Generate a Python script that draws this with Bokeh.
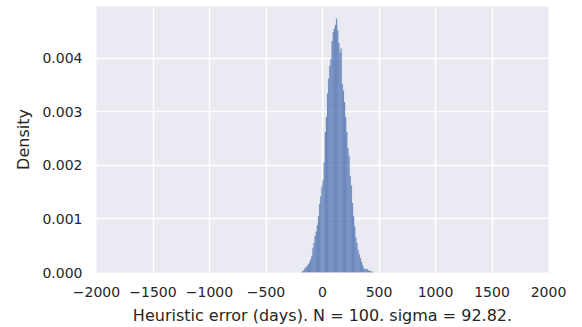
from bokeh.plotting import figure
from bokeh.models import Range1d, FixedTicker, ColumnDataSource
from bokeh.embed import file_html
from bokeh.resources import INLINE

bin_width = 10
bin_left = list(range(-190, 450, 10))
density = [
    0.00001, 0.00002, 0.00004, 0.00008, 0.00010, 0.00012, 0.00015, 0.00018,
    0.00024, 0.00030, 0.00045, 0.00055, 0.00068, 0.00076, 0.00088, 0.00105,
    0.00128, 0.00142, 0.00160, 0.00172, 0.00205, 0.00262, 0.00290, 0.00334,
    0.00362, 0.00385, 0.00398, 0.00432, 0.00448, 0.00455, 0.00462, 0.00474,
    0.00452, 0.00428, 0.00410, 0.00418, 0.00352, 0.00340, 0.00318, 0.00290,
    0.00262, 0.00232, 0.00218, 0.00180, 0.00162, 0.00130, 0.00105, 0.00086,
    0.00065, 0.00055, 0.00042, 0.00034, 0.00027, 0.00020, 0.00014, 0.00008,
    0.00005, 0.00007, 0.00006, 0.00004, 0.00003, 0.00002, 0.00002, 0.00001,
]
x_ticks = [-2000, -1500, -1000, -500, 0, 500, 1000, 1500, 2000]
y_ticks = [0.000, 0.001, 0.002, 0.003, 0.004]
x_label = "Heuristic error (days). N = 100. sigma = 92.82."
y_label = "Density"

n = min(len(bin_left), len(density))
src = ColumnDataSource(dict(
    left=bin_left[:n],
    right=[b + bin_width for b in bin_left[:n]],
    top=density[:n],
    bottom=[0] * n,
))

p = figure(width=582, height=327, output_backend="svg", toolbar_location=None,
           x_range=Range1d(-2000, 2000), y_range=Range1d(0, 0.004967),
           min_border_left=96, min_border_right=34, min_border_top=6, min_border_bottom=54)
p.background_fill_color = "#eaeaf2"
p.border_fill_color = "white"
p.outline_line_color = None

p.quad(left="left", right="right", top="top", bottom="bottom", source=src,
       fill_color="#4c72b0", fill_alpha=0.75, line_color="#4c72b0", line_alpha=0.25, line_width=0.5)

font = "DejaVu Sans"
for ax in (p.xaxis[0], p.yaxis[0]):
    ax.axis_line_color = None
    ax.major_tick_line_color = None
    ax.minor_tick_line_color = None
    ax.major_tick_out = 0
    ax.major_tick_in = 0
    ax.minor_tick_out = 0
    ax.major_label_text_font = font
    ax.major_label_text_font_size = "14px"
    ax.major_label_text_color = "#262626"
    ax.axis_label_text_font = font
    ax.axis_label_text_font_size = "16px"
    ax.axis_label_text_font_style = "normal"
    ax.axis_label_text_color = "#262626"

p.xaxis.ticker = FixedTicker(ticks=x_ticks)
p.yaxis.ticker = FixedTicker(ticks=y_ticks)
p.xaxis.major_label_overrides = {t: ("\u2212" + str(-t) if t < 0 else str(t)) for t in x_ticks}
p.yaxis.major_label_overrides = {t: "%.3f" % t for t in y_ticks}
p.xaxis.axis_label = x_label
p.yaxis.axis_label = y_label
p.xaxis.major_label_standoff = 14
p.yaxis.major_label_standoff = 14
p.xaxis.axis_label_standoff = 6
p.yaxis.axis_label_standoff = 6

p.xgrid.ticker = FixedTicker(ticks=x_ticks)
p.ygrid.ticker = FixedTicker(ticks=y_ticks)
p.grid.grid_line_color = "white"
p.grid.grid_line_width = 1.5

open("out.html", "w").write(file_html(p, INLINE))
